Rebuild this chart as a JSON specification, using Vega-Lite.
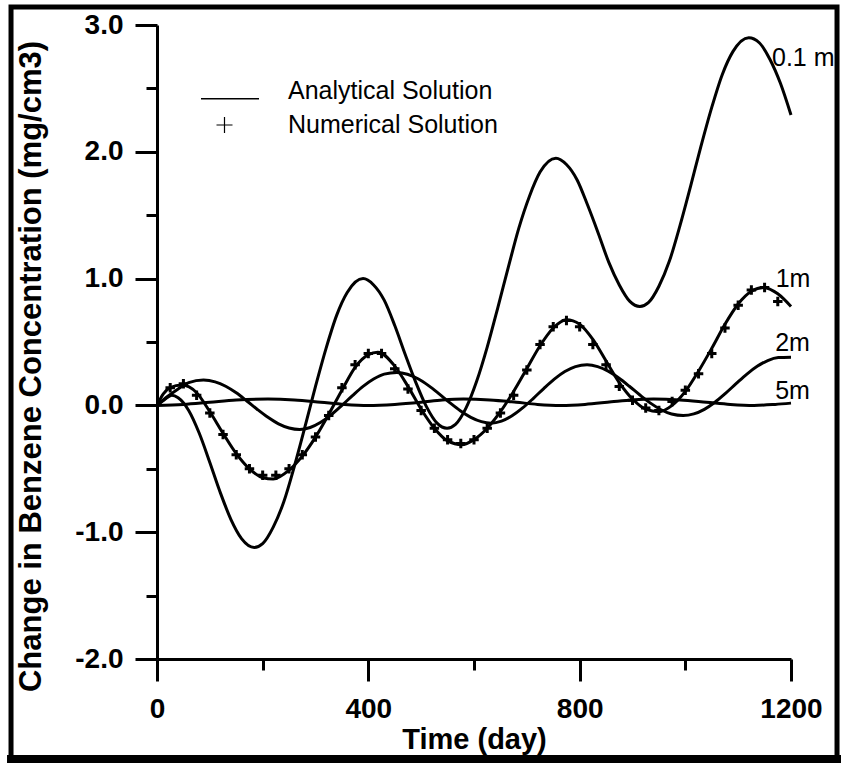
{
  "$schema": "https://vega.github.io/schema/vega-lite/v6.json",
  "width": 634,
  "height": 634,
  "autosize": {"type": "none"},
  "padding": {"left": 157, "top": 25, "right": 50, "bottom": 104},
  "background": "white",
  "config": {"view": {"stroke": null}, "font": "Liberation Sans"},
  "datasets": {
    "analytical": [
      {"depth":"0.1 m","time":0,"value":0},{"depth":"0.1 m","time":14,"value":0.045},{"depth":"0.1 m","time":28,"value":0.08},{"depth":"0.1 m","time":40,"value":0.06},{"depth":"0.1 m","time":60,"value":-0.04},{"depth":"0.1 m","time":80,"value":-0.22},{"depth":"0.1 m","time":100,"value":-0.45},{"depth":"0.1 m","time":120,"value":-0.69},{"depth":"0.1 m","time":140,"value":-0.9},{"depth":"0.1 m","time":160,"value":-1.05},{"depth":"0.1 m","time":184,"value":-1.12},{"depth":"0.1 m","time":200,"value":-1.09},{"depth":"0.1 m","time":220,"value":-0.96},{"depth":"0.1 m","time":240,"value":-0.76},{"depth":"0.1 m","time":260,"value":-0.48},{"depth":"0.1 m","time":280,"value":-0.17},{"depth":"0.1 m","time":300,"value":0.15},{"depth":"0.1 m","time":320,"value":0.45},{"depth":"0.1 m","time":340,"value":0.71},{"depth":"0.1 m","time":360,"value":0.89},{"depth":"0.1 m","time":390,"value":1.0},{"depth":"0.1 m","time":410,"value":0.95},{"depth":"0.1 m","time":430,"value":0.83},{"depth":"0.1 m","time":450,"value":0.63},{"depth":"0.1 m","time":470,"value":0.4},{"depth":"0.1 m","time":490,"value":0.18},{"depth":"0.1 m","time":510,"value":-0.01},{"depth":"0.1 m","time":530,"value":-0.14},{"depth":"0.1 m","time":549,"value":-0.18},{"depth":"0.1 m","time":565,"value":-0.15},{"depth":"0.1 m","time":585,"value":-0.02},{"depth":"0.1 m","time":605,"value":0.19},{"depth":"0.1 m","time":625,"value":0.46},{"depth":"0.1 m","time":645,"value":0.77},{"depth":"0.1 m","time":665,"value":1.09},{"depth":"0.1 m","time":685,"value":1.4},{"depth":"0.1 m","time":705,"value":1.65},{"depth":"0.1 m","time":725,"value":1.84},{"depth":"0.1 m","time":755,"value":1.95},{"depth":"0.1 m","time":775,"value":1.9},{"depth":"0.1 m","time":795,"value":1.78},{"depth":"0.1 m","time":815,"value":1.58},{"depth":"0.1 m","time":835,"value":1.36},{"depth":"0.1 m","time":855,"value":1.13},{"depth":"0.1 m","time":875,"value":0.95},{"depth":"0.1 m","time":895,"value":0.82},{"depth":"0.1 m","time":914,"value":0.78},{"depth":"0.1 m","time":930,"value":0.81},{"depth":"0.1 m","time":950,"value":0.94},{"depth":"0.1 m","time":970,"value":1.14},{"depth":"0.1 m","time":990,"value":1.42},{"depth":"0.1 m","time":1010,"value":1.73},{"depth":"0.1 m","time":1030,"value":2.05},{"depth":"0.1 m","time":1050,"value":2.35},{"depth":"0.1 m","time":1070,"value":2.61},{"depth":"0.1 m","time":1090,"value":2.79},{"depth":"0.1 m","time":1120,"value":2.9},{"depth":"0.1 m","time":1140,"value":2.86},{"depth":"0.1 m","time":1160,"value":2.73},{"depth":"0.1 m","time":1180,"value":2.54},{"depth":"0.1 m","time":1200,"value":2.29},
      {"depth":"1m","time":0,"value":0},{"depth":"1m","time":12,"value":0.09},{"depth":"1m","time":25,"value":0.14},{"depth":"1m","time":47,"value":0.16},{"depth":"1m","time":75,"value":0.1},{"depth":"1m","time":100,"value":-0.05},{"depth":"1m","time":125,"value":-0.22},{"depth":"1m","time":150,"value":-0.38},{"depth":"1m","time":175,"value":-0.5},{"depth":"1m","time":200,"value":-0.57},{"depth":"1m","time":220,"value":-0.58},{"depth":"1m","time":250,"value":-0.51},{"depth":"1m","time":275,"value":-0.4},{"depth":"1m","time":300,"value":-0.25},{"depth":"1m","time":325,"value":-0.07},{"depth":"1m","time":350,"value":0.12},{"depth":"1m","time":375,"value":0.3},{"depth":"1m","time":400,"value":0.4},{"depth":"1m","time":418,"value":0.42},{"depth":"1m","time":450,"value":0.31},{"depth":"1m","time":475,"value":0.15},{"depth":"1m","time":500,"value":-0.03},{"depth":"1m","time":525,"value":-0.18},{"depth":"1m","time":550,"value":-0.28},{"depth":"1m","time":577,"value":-0.31},{"depth":"1m","time":600,"value":-0.27},{"depth":"1m","time":625,"value":-0.18},{"depth":"1m","time":650,"value":-0.05},{"depth":"1m","time":675,"value":0.11},{"depth":"1m","time":700,"value":0.29},{"depth":"1m","time":725,"value":0.47},{"depth":"1m","time":750,"value":0.61},{"depth":"1m","time":775,"value":0.675},{"depth":"1m","time":800,"value":0.64},{"depth":"1m","time":825,"value":0.52},{"depth":"1m","time":850,"value":0.35},{"depth":"1m","time":875,"value":0.18},{"depth":"1m","time":900,"value":0.05},{"depth":"1m","time":925,"value":-0.03},{"depth":"1m","time":950,"value":-0.05},{"depth":"1m","time":975,"value":0.0},{"depth":"1m","time":1000,"value":0.11},{"depth":"1m","time":1025,"value":0.27},{"depth":"1m","time":1050,"value":0.45},{"depth":"1m","time":1075,"value":0.64},{"depth":"1m","time":1100,"value":0.8},{"depth":"1m","time":1125,"value":0.9},{"depth":"1m","time":1148,"value":0.93},{"depth":"1m","time":1175,"value":0.88},{"depth":"1m","time":1200,"value":0.78},
      {"depth":"2m","time":0,"value":0},{"depth":"2m","time":20,"value":0.07},{"depth":"2m","time":40,"value":0.13},{"depth":"2m","time":60,"value":0.18},{"depth":"2m","time":88,"value":0.2},{"depth":"2m","time":110,"value":0.186},{"depth":"2m","time":130,"value":0.151},{"depth":"2m","time":150,"value":0.099},{"depth":"2m","time":170,"value":0.035},{"depth":"2m","time":190,"value":-0.032},{"depth":"2m","time":210,"value":-0.094},{"depth":"2m","time":230,"value":-0.145},{"depth":"2m","time":250,"value":-0.178},{"depth":"2m","time":270,"value":-0.19},{"depth":"2m","time":290,"value":-0.174},{"depth":"2m","time":310,"value":-0.133},{"depth":"2m","time":330,"value":-0.073},{"depth":"2m","time":350,"value":0.0},{"depth":"2m","time":370,"value":0.077},{"depth":"2m","time":390,"value":0.15},{"depth":"2m","time":410,"value":0.208},{"depth":"2m","time":430,"value":0.247},{"depth":"2m","time":454,"value":0.26},{"depth":"2m","time":474,"value":0.246},{"depth":"2m","time":494,"value":0.21},{"depth":"2m","time":514,"value":0.156},{"depth":"2m","time":534,"value":0.091},{"depth":"2m","time":554,"value":0.022},{"depth":"2m","time":574,"value":-0.042},{"depth":"2m","time":594,"value":-0.094},{"depth":"2m","time":614,"value":-0.128},{"depth":"2m","time":632,"value":-0.14},{"depth":"2m","time":652,"value":-0.124},{"depth":"2m","time":672,"value":-0.082},{"depth":"2m","time":692,"value":-0.02},{"depth":"2m","time":712,"value":0.054},{"depth":"2m","time":732,"value":0.133},{"depth":"2m","time":752,"value":0.207},{"depth":"2m","time":772,"value":0.267},{"depth":"2m","time":792,"value":0.306},{"depth":"2m","time":814,"value":0.32},{"depth":"2m","time":834,"value":0.306},{"depth":"2m","time":854,"value":0.27},{"depth":"2m","time":874,"value":0.216},{"depth":"2m","time":894,"value":0.151},{"depth":"2m","time":914,"value":0.082},{"depth":"2m","time":934,"value":0.018},{"depth":"2m","time":954,"value":-0.034},{"depth":"2m","time":974,"value":-0.068},{"depth":"2m","time":996,"value":-0.08},{"depth":"2m","time":1016,"value":-0.067},{"depth":"2m","time":1036,"value":-0.031},{"depth":"2m","time":1056,"value":0.025},{"depth":"2m","time":1076,"value":0.095},{"depth":"2m","time":1096,"value":0.171},{"depth":"2m","time":1116,"value":0.245},{"depth":"2m","time":1136,"value":0.308},{"depth":"2m","time":1156,"value":0.354},{"depth":"2m","time":1176,"value":0.377},{"depth":"2m","time":1200,"value":0.38},
      {"depth":"5m","time":0,"value":0},{"depth":"5m","time":50,"value":0.008},{"depth":"5m","time":100,"value":0.025},{"depth":"5m","time":150,"value":0.042},{"depth":"5m","time":210,"value":0.05},{"depth":"5m","time":260,"value":0.043},{"depth":"5m","time":310,"value":0.025},{"depth":"5m","time":355,"value":0.008},{"depth":"5m","time":400,"value":0.0},{"depth":"5m","time":450,"value":0.008},{"depth":"5m","time":500,"value":0.025},{"depth":"5m","time":540,"value":0.042},{"depth":"5m","time":580,"value":0.05},{"depth":"5m","time":630,"value":0.043},{"depth":"5m","time":680,"value":0.025},{"depth":"5m","time":720,"value":0.008},{"depth":"5m","time":765,"value":0.0},{"depth":"5m","time":810,"value":0.008},{"depth":"5m","time":860,"value":0.028},{"depth":"5m","time":900,"value":0.043},{"depth":"5m","time":940,"value":0.05},{"depth":"5m","time":990,"value":0.043},{"depth":"5m","time":1040,"value":0.025},{"depth":"5m","time":1085,"value":0.008},{"depth":"5m","time":1130,"value":0.0},{"depth":"5m","time":1170,"value":0.008},{"depth":"5m","time":1200,"value":0.018}
    ],
    "numerical": [
      {"solution":"Numerical Solution","time":25,"value":0.14},{"solution":"Numerical Solution","time":50,"value":0.17},{"solution":"Numerical Solution","time":75,"value":0.08},{"solution":"Numerical Solution","time":100,"value":-0.06},{"solution":"Numerical Solution","time":125,"value":-0.23},{"solution":"Numerical Solution","time":150,"value":-0.39},{"solution":"Numerical Solution","time":175,"value":-0.5},{"solution":"Numerical Solution","time":200,"value":-0.55},{"solution":"Numerical Solution","time":225,"value":-0.55},{"solution":"Numerical Solution","time":250,"value":-0.5},{"solution":"Numerical Solution","time":275,"value":-0.39},{"solution":"Numerical Solution","time":300,"value":-0.25},{"solution":"Numerical Solution","time":325,"value":-0.08},{"solution":"Numerical Solution","time":350,"value":0.14},{"solution":"Numerical Solution","time":375,"value":0.32},{"solution":"Numerical Solution","time":400,"value":0.41},{"solution":"Numerical Solution","time":425,"value":0.41},{"solution":"Numerical Solution","time":450,"value":0.29},{"solution":"Numerical Solution","time":475,"value":0.13},{"solution":"Numerical Solution","time":500,"value":-0.04},{"solution":"Numerical Solution","time":525,"value":-0.18},{"solution":"Numerical Solution","time":550,"value":-0.27},{"solution":"Numerical Solution","time":575,"value":-0.3},{"solution":"Numerical Solution","time":600,"value":-0.27},{"solution":"Numerical Solution","time":625,"value":-0.18},{"solution":"Numerical Solution","time":650,"value":-0.06},{"solution":"Numerical Solution","time":675,"value":0.08},{"solution":"Numerical Solution","time":700,"value":0.28},{"solution":"Numerical Solution","time":725,"value":0.48},{"solution":"Numerical Solution","time":750,"value":0.62},{"solution":"Numerical Solution","time":775,"value":0.67},{"solution":"Numerical Solution","time":800,"value":0.62},{"solution":"Numerical Solution","time":825,"value":0.48},{"solution":"Numerical Solution","time":850,"value":0.32},{"solution":"Numerical Solution","time":875,"value":0.15},{"solution":"Numerical Solution","time":900,"value":0.04},{"solution":"Numerical Solution","time":925,"value":-0.02},{"solution":"Numerical Solution","time":950,"value":-0.04},{"solution":"Numerical Solution","time":975,"value":0.03},{"solution":"Numerical Solution","time":1000,"value":0.12},{"solution":"Numerical Solution","time":1025,"value":0.25},{"solution":"Numerical Solution","time":1050,"value":0.41},{"solution":"Numerical Solution","time":1075,"value":0.61},{"solution":"Numerical Solution","time":1100,"value":0.79},{"solution":"Numerical Solution","time":1125,"value":0.91},{"solution":"Numerical Solution","time":1150,"value":0.93},{"solution":"Numerical Solution","time":1175,"value":0.82}
    ],
    "labels": [
      {"label":"0.1 m","time":1164,"value":2.74},
      {"label":"1m","time":1171,"value":1.0},
      {"label":"2m","time":1170,"value":0.49},
      {"label":"5m","time":1170,"value":0.11}
    ]
  },
  "layer": [
    {
      "data": {"values": [{}]},
      "mark": {"type": "rect", "filled": false, "stroke": "black", "strokeWidth": 5, "clip": false},
      "encoding": {
        "x": {"datum": -276.3, "type": "quantitative", "scale": {"domain": [0, 1200], "nice": false, "zero": false}, "axis": null},
        "x2": {"datum": 1287.1},
        "y": {"datum": 3.142, "type": "quantitative", "scale": {"domain": [-2, 3], "nice": false, "zero": false}, "axis": null},
        "y2": {"datum": -2.789}
      }
    },
    {
      "data": {"values": [{}]},
      "mark": {"type": "rule", "stroke": "black", "strokeWidth": 8, "strokeCap": "square", "clip": false},
      "encoding": {
        "x": {"datum": -276.3, "type": "quantitative", "scale": {"domain": [0, 1200], "nice": false, "zero": false}, "axis": null},
        "x2": {"datum": 1287.1},
        "y": {"datum": -2.789, "type": "quantitative", "scale": {"domain": [-2, 3], "nice": false, "zero": false}, "axis": null}
      }
    },
    {
      "data": {"name": "analytical"},
      "mark": {"type": "line", "interpolate": "monotone", "clip": false},
      "encoding": {
        "x": {
          "field": "time", "type": "quantitative",
          "scale": {"domain": [0, 1200], "nice": false, "zero": false},
          "axis": {
            "orient": "bottom", "values": [0, 400, 800, 1200], "format": "d",
            "grid": false, "tickSize": 22, "tickWidth": 3, "tickColor": "black",
            "domainWidth": 3, "domainColor": "black",
            "labelFont": "Liberation Sans", "labelFontSize": 28, "labelFontWeight": "bold", "labelColor": "black",
            "labelPadding": 14, "labelFlush": false, "labelOverlap": false, "labelBound": false,
            "title": "Time (day)", "titleFont": "Liberation Sans", "titleFontSize": 29, "titleFontWeight": "bold",
            "titleColor": "black", "titleY": 89, "titleBaseline": "alphabetic"
          }
        },
        "y": {
          "field": "value", "type": "quantitative",
          "scale": {"domain": [-2, 3], "nice": false, "zero": false},
          "axis": {
            "orient": "left", "values": [-2, -1, 0, 1, 2, 3],
            "labelExpr": "(datum.value < 0 ? '-' : '') + format(abs(datum.value), '.1f')",
            "grid": false, "tickSize": 22, "tickWidth": 3, "tickColor": "black",
            "domainWidth": 3, "domainColor": "black",
            "labelFont": "Liberation Sans", "labelFontSize": 28, "labelFontWeight": "bold", "labelColor": "black",
            "labelPadding": 12, "labelFlush": false, "labelOverlap": false, "labelBound": false,
            "title": "Change in Benzene Concentration (mg/cm3)", "titleFont": "Liberation Sans", "titleFontSize": 31,
            "titleFontWeight": "bold", "titleColor": "black", "titleAngle": 270, "titleX": -117, "titleY": 341,
            "titleBaseline": "alphabetic", "titleAlign": "center"
          }
        },
        "detail": {"field": "depth", "type": "nominal"},
        "stroke": {
          "datum": "Analytical Solution", "type": "nominal",
          "scale": {"domain": ["Analytical Solution"], "range": ["black"]},
          "legend": {
            "title": null, "orient": "none", "legendX": 43, "legendY": 43.7, "padding": 0,
            "symbolType": "stroke", "symbolSize": 3364, "symbolStrokeWidth": 1.4, "symbolStrokeColor": "black",
            "labelFont": "Liberation Sans", "labelFontSize": 25, "labelColor": "black", "labelBaseline": "alphabetic",
            "labelOffset": 28, "labelLimit": 400
          }
        },
        "strokeWidth": {"value": 3}
      }
    },
    {
      "data": {"name": "numerical"},
      "mark": {"type": "point", "filled": false, "size": 90, "opacity": 1, "clip": false},
      "encoding": {
        "x": {
          "field": "time", "type": "quantitative",
          "scale": {"domain": [0, 1200], "nice": false, "zero": false},
          "axis": {"orient": "bottom", "values": [200, 600, 1000], "labels": false, "domain": false, "grid": false,
                   "tickSize": 11, "tickWidth": 3, "tickColor": "black", "title": null}
        },
        "y": {
          "field": "value", "type": "quantitative",
          "scale": {"domain": [-2, 3], "nice": false, "zero": false},
          "axis": {"orient": "left", "values": [-1.5, -0.5, 0.5, 1.5, 2.5], "labels": false, "domain": false, "grid": false,
                   "tickSize": 11, "tickWidth": 3, "tickColor": "black", "title": null}
        },
        "shape": {
          "field": "solution", "type": "nominal",
          "scale": {"domain": ["Numerical Solution"], "range": ["M-1,0H1M0,-1V1"]},
          "legend": {
            "title": null, "orient": "none", "legendX": 55, "legendY": 87.5, "padding": 0,
            "symbolSize": 256, "symbolStrokeColor": "black", "symbolStrokeWidth": 1.2, "symbolFillColor": "transparent",
            "labelFont": "Liberation Sans", "labelFontSize": 25, "labelColor": "black", "labelBaseline": "middle",
            "labelOffset": 51, "labelLimit": 400
          }
        },
        "color": {"value": "black"},
        "strokeWidth": {"value": 3}
      }
    },
    {
      "data": {"name": "labels"},
      "mark": {"type": "text", "align": "left", "baseline": "middle", "font": "Liberation Sans", "fontSize": 25, "color": "black", "clip": false},
      "encoding": {
        "x": {"field": "time", "type": "quantitative", "scale": {"domain": [0, 1200], "nice": false, "zero": false}, "axis": null},
        "y": {"field": "value", "type": "quantitative", "scale": {"domain": [-2, 3], "nice": false, "zero": false}, "axis": null},
        "text": {"field": "label", "type": "nominal"}
      }
    }
  ],
  "resolve": {"axis": {"x": "independent", "y": "independent"}}
}
